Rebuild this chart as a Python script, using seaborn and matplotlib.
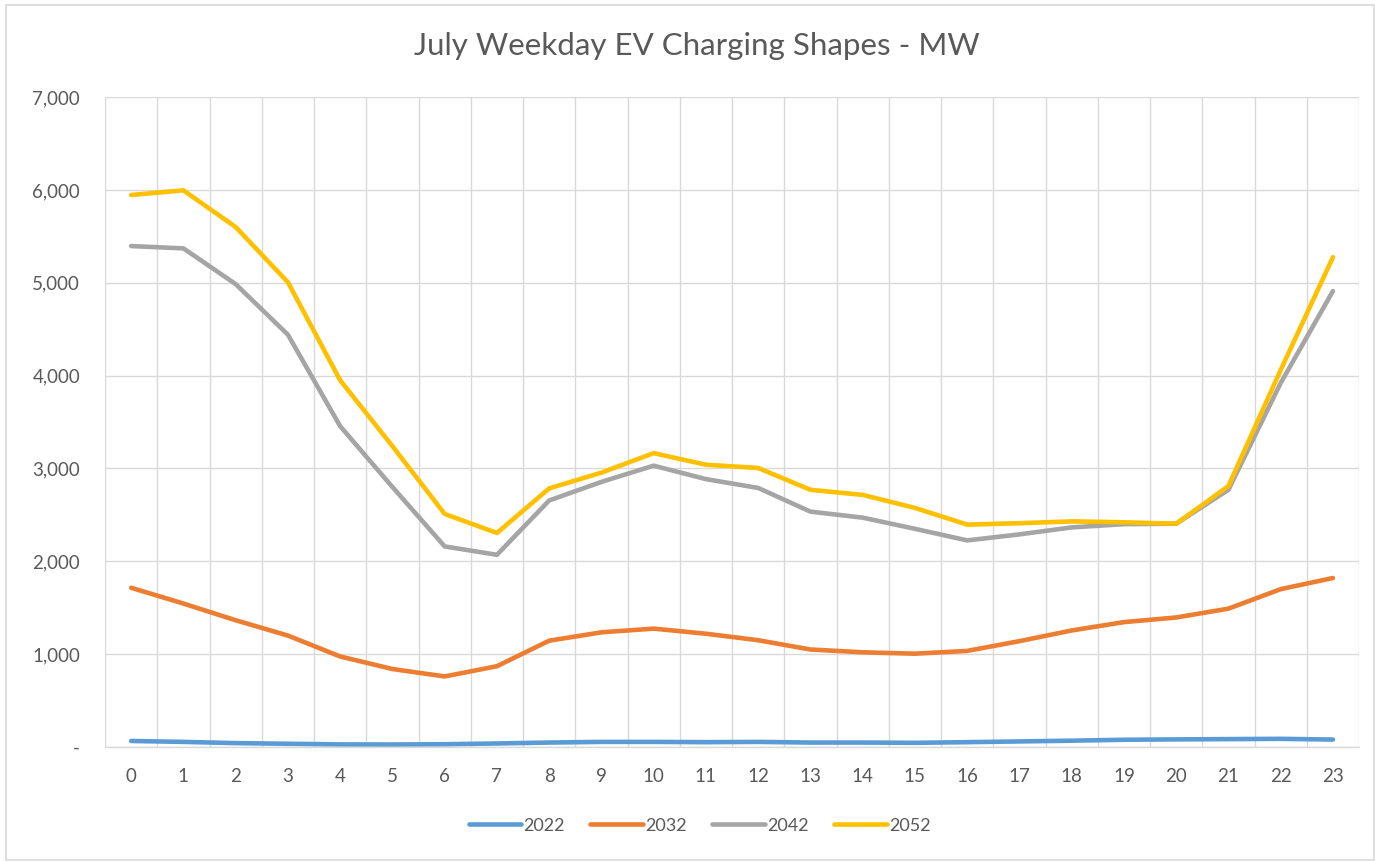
import pandas as pd
import matplotlib.pyplot as plt
import matplotlib.patches as mpatches
from matplotlib.ticker import FuncFormatter, MultipleLocator
import seaborn as sns

# Hourly shape values (MW)
hours = list(range(24))
mw_2022 = [65, 55, 42, 35, 28, 27, 30, 38, 48, 55, 55, 52, 55, 48, 48, 45, 52, 60, 68, 78, 82, 85, 88, 80]
mw_2032 = [1715, 1545, 1365, 1200, 975, 840, 760, 870, 1145, 1235, 1275, 1220, 1150, 1050, 1020, 1005, 1035, 1140, 1255, 1345, 1395, 1490, 1700, 1820]
mw_2042 = [5395, 5370, 4985, 4440, 3455, 2800, 2160, 2070, 2655, 2855, 3030, 2885, 2790, 2535, 2470, 2350, 2225, 2290, 2365, 2400, 2405, 2770, 3920, 4910]
mw_2052 = [5945, 5995, 5600, 5005, 3950, 3240, 2510, 2305, 2785, 2955, 3165, 3040, 3005, 2770, 2715, 2575, 2395, 2410, 2430, 2420, 2405, 2810, 4060, 5275]
years = ['2022', '2032', '2042', '2052']
colors = ['#5B9BD5', '#ED7D31', '#A5A5A5', '#FFC000']

df = pd.DataFrame({'Hour': hours, '2022': mw_2022, '2032': mw_2032,
                   '2042': mw_2042, '2052': mw_2052})
long_df = df.melt(id_vars='Hour', var_name='Year', value_name='MW')

sns.set_style('white')
plt.rcParams['font.family'] = ['Lato', 'DejaVu Sans']

fig = plt.figure(figsize=(13.75, 8.61), dpi=100)
ax = fig.add_axes([0.0764, 0.1324, 0.9120, 0.7549])

sns.lineplot(data=long_df, x='Hour', y='MW', hue='Year', hue_order=years,
             palette=colors, linewidth=3.3, ax=ax, legend=False,
             solid_capstyle='round', solid_joinstyle='round')

ax.set_xlim(-0.5, 23.5)
ax.set_ylim(0, 7000)
ax.set_xticks(hours)
ax.xaxis.set_minor_locator(MultipleLocator(1, offset=0.5))
ax.yaxis.set_major_locator(MultipleLocator(1000))
ax.yaxis.set_major_formatter(FuncFormatter(lambda v, p: '-' if v == 0 else f'{int(v):,}'))
ax.grid(which='major', axis='y', color='#D9D9D9', linewidth=1)
ax.grid(which='minor', axis='x', color='#D9D9D9', linewidth=1)
ax.set_axisbelow(True)
ax.tick_params(axis='both', which='both', length=0, labelsize=13.5, colors='#595959')
ax.tick_params(axis='x', pad=15)
ax.tick_params(axis='y', pad=18)
ax.set_xlabel('')
ax.set_ylabel('')
for side in ['top', 'right', 'left']:
    ax.spines[side].set_visible(False)
ax.spines['bottom'].set_color('#D9D9D9')
ax.spines['bottom'].set_linewidth(1)

fig.text(0.507, 0.947, 'July Weekday EV Charging Shapes - MW', ha='center', va='center',
         fontsize=22.5, color='#595959')

handles = [plt.Line2D([0], [0], color=c, linewidth=3.3, solid_capstyle='round') for c in colors]
fig.legend(handles, years, loc='center', bbox_to_anchor=(0.509, 0.041), ncol=4, frameon=False,
           fontsize=13, handlelength=2.9, handletextpad=0.15, columnspacing=1.4,
           labelcolor='#595959')

# chart area border
fig.patches.append(mpatches.Rectangle((0.0044, 0.001), 0.995, 0.993, transform=fig.transFigure,
                                      fill=False, edgecolor='#D9D9D9', linewidth=1.2))

fig.savefig('out.png', dpi=100, facecolor='white')
